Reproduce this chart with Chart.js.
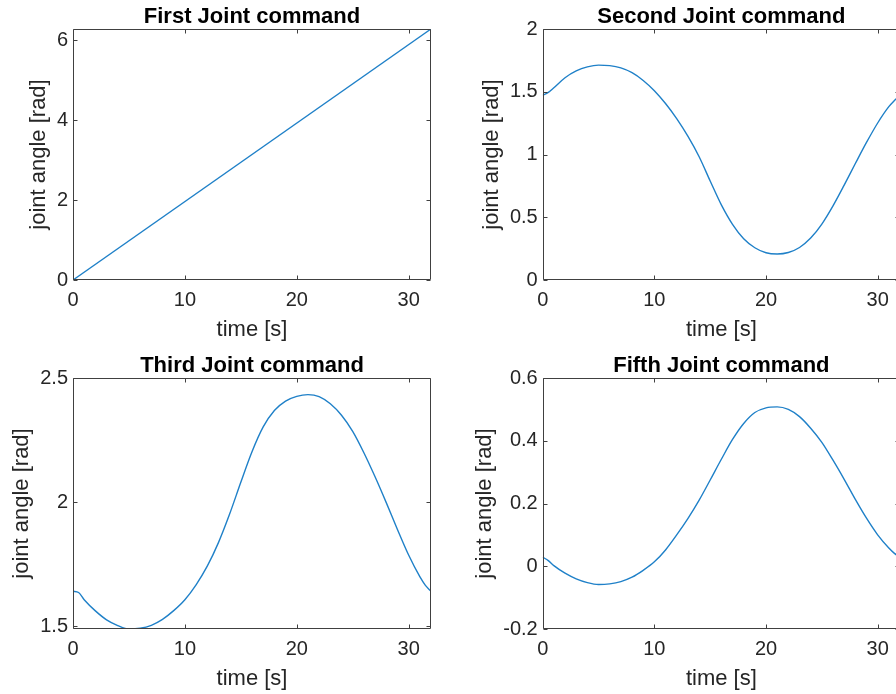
<!DOCTYPE html>
<html>
<head>
<meta charset="utf-8">
<script src="https://cdn.jsdelivr.net/npm/chart.js@4.4.1/dist/chart.umd.min.js"></script>
<style>
  html, body { margin:0; padding:0; background:#ffffff; overflow:hidden; }
  #wrap { position:relative; width:896px; height:694px; overflow:hidden; background:#ffffff; }
  canvas { position:absolute; }
</style>
</head>
<body>
<div id="wrap">
  <canvas id="c1" width="448" height="345" style="left:0px;top:0px"></canvas>
  <canvas id="c2" width="450" height="345" style="left:450px;top:0px"></canvas>
  <canvas id="c3" width="448" height="345" style="left:0px;top:349px"></canvas>
  <canvas id="c4" width="450" height="345" style="left:450px;top:349px"></canvas>
</div>
<script>
// ---------------- data ----------------
const titles = ['First Joint command', 'Second Joint command', 'Third Joint command', 'Fifth Joint command'];
const xLabel = 'time [s]';
const yLabel = 'joint angle [rad]';

const joint1Time = [0, 32];
const joint1 = [0, 6.2832];

const time = [0, 0.5, 1, 2, 3, 4, 5, 6, 7, 8, 9, 10, 11, 12, 13, 14, 15, 16,
              17, 18, 19, 20, 21, 22, 23, 24, 25, 26, 27, 28, 29, 30, 31, 31.5, 32];
const joint2 = [1.472, 1.495, 1.532, 1.612, 1.666, 1.698, 1.712, 1.708, 1.690, 1.652, 1.590, 1.508,
                1.406, 1.286, 1.146, 0.984, 0.789, 0.599, 0.444, 0.329, 0.257, 0.217, 0.207, 0.219,
                0.259, 0.334, 0.446, 0.591, 0.756, 0.928, 1.096, 1.251, 1.381, 1.430, 1.472];
const joint3 = [1.641, 1.636, 1.607, 1.562, 1.526, 1.503, 1.489, 1.492, 1.504, 1.528, 1.563, 1.607,
                1.667, 1.742, 1.837, 1.952, 2.080, 2.203, 2.303, 2.369, 2.407, 2.426, 2.433, 2.425,
                2.396, 2.350, 2.285, 2.199, 2.102, 1.998, 1.890, 1.787, 1.700, 1.665, 1.641];
const joint5 = [0.029, 0.018, 0.002, -0.022, -0.040, -0.052, -0.058, -0.056, -0.049, -0.035, -0.013, 0.014,
                0.052, 0.100, 0.152, 0.210, 0.275, 0.341, 0.404, 0.455, 0.490, 0.505, 0.508, 0.500,
                0.477, 0.440, 0.395, 0.338, 0.277, 0.213, 0.153, 0.100, 0.058, 0.041, 0.029];

const xRange = [0, 32];
const xTicks = [0, 10, 20, 30];
const yRange1 = [0, 6.2832];  const yTicks1 = [0, 2, 4, 6];
const yRange2 = [0, 2];       const yTicks2 = [0, 0.5, 1, 1.5, 2];
const yRange3 = [1.489, 2.5]; const yTicks3 = [1.5, 2, 2.5];
const yRange5 = [-0.2, 0.6];  const yTicks5 = [-0.2, 0, 0.2, 0.4, 0.6];

// ---------------- styling ----------------
const FONT = "'Liberation Sans', Arial, Helvetica, sans-serif";
const AXIS_COLOR = '#262626';
const LINE_COLOR = '#1f80c8';

const boxPlugin = {
  id: 'matlabBox',
  afterDatasetsDraw(chart) {
    const {ctx, chartArea: a, scales} = chart;
    const L = Math.round(a.left) + 0.5, R = Math.round(a.right) - 0.5;
    const T = Math.round(a.top) + 0.5, B = Math.round(a.bottom) - 0.5;
    const tl = 4;
    ctx.save();
    ctx.strokeStyle = '#404040';
    ctx.lineWidth = 1;
    ctx.beginPath();
    ctx.rect(L, T, R - L, B - T);
    scales.x.ticks.forEach(t => {
      const px = Math.round(scales.x.getPixelForValue(t.value)) + 0.5;
      ctx.moveTo(px, B); ctx.lineTo(px, B - tl);
      ctx.moveTo(px, T); ctx.lineTo(px, T + tl);
    });
    scales.y.ticks.forEach(t => {
      const py = Math.round(scales.y.getPixelForValue(t.value)) + 0.5;
      ctx.moveTo(L, py); ctx.lineTo(L + tl, py);
      ctx.moveTo(R, py); ctx.lineTo(R - tl, py);
    });
    ctx.stroke();
    ctx.restore();
  }
};

function makeChart(id, title, xs, ys, yRange, yTicks, yAxisWidth, yTitlePad, rightPad) {
  const pts = xs.map((x, i) => ({x: x, y: ys[i]}));
  return new Chart(document.getElementById(id), {
    type: 'line',
    data: { datasets: [{
      data: pts,
      borderColor: LINE_COLOR,
      borderWidth: 1.4,
      pointRadius: 0,
      fill: false,
      cubicInterpolationMode: 'monotone'
    }]},
    options: {
      responsive: false,
      animation: false,
      devicePixelRatio: 1,
      layout: { padding: { left: 0, right: rightPad, top: 0, bottom: 0 } },
      plugins: {
        legend: { display: false },
        tooltip: { enabled: false },
        title: {
          display: true, text: title, color: '#000000', fullSize: false,
          font: { family: FONT, size: 22, weight: 'bold', lineHeight: 1 },
          padding: { top: 6, bottom: 1 }
        }
      },
      scales: {
        x: {
          type: 'linear', min: xRange[0], max: xRange[1],
          afterBuildTicks: s => { s.ticks = xTicks.map(v => ({value: v})); },
          afterFit: s => { s.height = 65; },
          grid: { display: false, drawTicks: false },
          border: { display: false },
          ticks: { padding: 8, color: AXIS_COLOR, maxRotation: 0, autoSkip: false,
                   font: { family: FONT, size: 20 }, callback: v => String(v) },
          title: { display: true, text: xLabel, color: AXIS_COLOR,
                   font: { family: FONT, size: 22, lineHeight: 1 }, padding: { top: 0, bottom: 3.6 } }
        },
        y: {
          type: 'linear', min: yRange[0], max: yRange[1],
          afterBuildTicks: s => { s.ticks = yTicks.map(v => ({value: v})); },
          afterFit: s => { s.width = yAxisWidth; },
          grid: { display: false, drawTicks: false },
          border: { display: false },
          ticks: { padding: 5, color: AXIS_COLOR, autoSkip: false,
                   font: { family: FONT, size: 20 }, callback: v => String(v) },
          title: { display: true, text: yLabel, color: AXIS_COLOR,
                   font: { family: FONT, size: 22, lineHeight: 1 }, padding: { top: yTitlePad, bottom: 0 } }
        }
      }
    },
    plugins: [boxPlugin]
  });
}

makeChart('c1', titles[0], joint1Time, joint1, yRange1, yTicks1, 73, 28, 17);
makeChart('c2', titles[1], time, joint2, yRange2, yTicks2, 92.7, 31, 0);
makeChart('c3', titles[2], time, joint3, yRange3, yTicks3, 73, 10.5, 17);
makeChart('c4', titles[3], time, joint5, yRange5, yTicks5, 92.7, 24, 0);
</script>
</body>
</html>
